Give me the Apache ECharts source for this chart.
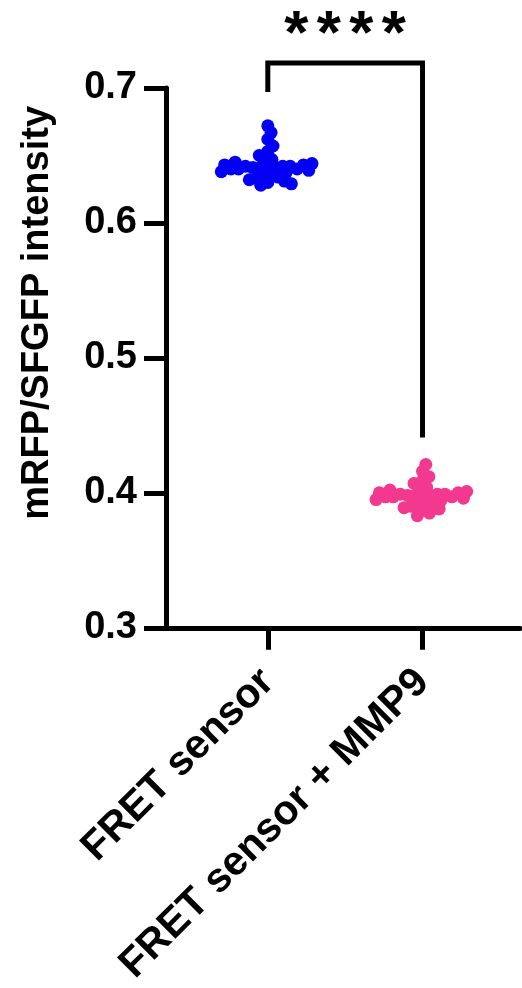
<!DOCTYPE html>
<html>
<head>
<meta charset="utf-8">
<script src="https://cdn.jsdelivr.net/npm/echarts@6/dist/echarts.min.js"></script>
<style>
  html, body { margin: 0; padding: 0; background: #fff; }
  #main { width: 522px; height: 988px; }
</style>
</head>
<body>
<div id="main"></div>
<script>
const groups = ["FRET sensor", "FRET sensor + MMP9"];
const yTicks = [0.3, 0.4, 0.5, 0.6, 0.7];

// mRFP/SFGFP ratio per cell
const fretSensor = [
  0.672, 0.667, 0.662, 0.657, 0.653, 0.650,
  0.647, 0.646, 0.645,
  0.644, 0.643, 0.643, 0.642, 0.642, 0.642, 0.641, 0.641, 0.641, 0.641,
  0.640, 0.640, 0.640,
  0.639, 0.638, 0.637, 0.636, 0.635, 0.634, 0.633, 0.632, 0.631, 0.630,
  0.629, 0.628
];
const fretSensorMmp9 = [
  0.421, 0.416, 0.412, 0.409, 0.407,
  0.404, 0.403, 0.402,
  0.401, 0.400, 0.400, 0.399, 0.399, 0.399, 0.398, 0.398, 0.398, 0.398,
  0.397, 0.397, 0.397,
  0.396, 0.395, 0.394, 0.393, 0.392, 0.391, 0.390, 0.389, 0.388, 0.387,
  0.385, 0.383
];

// significance bracket: [x, y] corners and label
const bracket = [[1, 0.697], [1, 0.7186], [2, 0.7186], [2, 0.441]];
const sigStars = 4;

const FONT = "'Liberation Sans', Arial, sans-serif";
const colors = ["#0400F4", "#F2388F"];

let myChart = echarts.init(document.getElementById("main"));

let option = {
  animation: false,
  backgroundColor: "#fff",
  grid: { left: 166, right: 2, top: 88, bottom: 359 },
  xAxis: {
    type: "value",
    min: 0.342,
    max: 2.63,
    splitLine: { show: false },
    axisLine: { lineStyle: { color: "#000", width: 5 } },
    axisTick: {
      customValues: [1, 2],
      length: 22,
      lineStyle: { color: "#000", width: 5 },
    },
    axisLabel: {
      customValues: [1, 2],
      formatter: (v) => groups[Math.round(v) - 1] || "",
      rotate: 45,
      margin: 48,
      color: "#000",
      fontSize: 41,
      fontWeight: "bold",
      fontFamily: FONT,
    },
  },
  yAxis: {
    type: "value",
    min: yTicks[0],
    max: yTicks[yTicks.length - 1],
    interval: 0.1,
    name: "mRFP/SFGFP intensity",
    nameLocation: "middle",
    nameGap: 109,
    nameTextStyle: {
      color: "#000",
      fontSize: 38,
      fontWeight: "bold",
      fontFamily: FONT,
      padding: [0, 0, 0, 90],
    },
    splitLine: { show: false },
    axisLine: { show: true, lineStyle: { color: "#000", width: 5 } },
    axisTick: { show: true, length: 22, lineStyle: { color: "#000", width: 5 } },
    axisLabel: {
      margin: 29,
      color: "#000",
      fontSize: 38,
      fontWeight: "bold",
      fontFamily: FONT,
      formatter: (v) => v.toFixed(1),
    },
  },
  series: [],
};
myChart.setOption(option);

// beeswarm layout in pixel space, then back to data coords
function swarm(vals, cx, d) {
  const sorted = vals.slice().sort((a, b) => a - b);
  const med = sorted[Math.floor(sorted.length / 2)];
  const order = vals.slice().sort((a, b) => Math.abs(a - med) - Math.abs(b - med));
  const placed = [];
  const c = myChart.convertToPixel({ gridIndex: 0 }, [cx, med]);
  order.forEach((v, i) => {
    const py = myChart.convertToPixel({ gridIndex: 0 }, [cx, v])[1];
    const iv = [];
    placed.forEach((p) => {
      const dy = p[1] - py;
      if (Math.abs(dy) < d) {
        const w = Math.sqrt(d * d - dy * dy);
        iv.push([p[0] - w, p[0] + w]);
      }
    });
    let cands = [0];
    iv.forEach((a) => cands.push(a[0], a[1]));
    cands = cands.filter((x) => iv.every((a) => x <= a[0] + 1e-6 || x >= a[1] - 1e-6));
    cands.sort((a, b) => Math.abs(a) - Math.abs(b) || (i % 2 ? a - b : b - a));
    placed.push([cands[0], py]);
  });
  return placed.map((p) => myChart.convertFromPixel({ gridIndex: 0 }, [c[0] + p[0], p[1]]));
}

myChart.setOption({
  series: [
    {
      name: groups[0],
      type: "scatter",
      symbolSize: 13,
      itemStyle: { color: colors[0], opacity: 1 },
      data: swarm(fretSensor, 1, 7.5),
    },
    {
      name: groups[1],
      type: "scatter",
      symbolSize: 13,
      itemStyle: { color: colors[1], opacity: 1 },
      data: swarm(fretSensorMmp9, 2, 7.5),
    },
    {
      type: "line",
      clip: false,
      symbol: "none",
      lineStyle: { color: "#000", width: 5, cap: "butt", join: "miter" },
      data: bracket,
    },
    {
      type: "scatter",
      clip: false,
      symbolSize: 0,
      data: [[1.5, 0.7186]],
      label: {
        show: true,
        position: "top",
        distance: 2,
        color: "#000",
        opacity: 1,
        formatter: "{s|*}".repeat(sigStars),
        rich: {
          s: {
            width: 32.5,
            align: "center",
            color: "#000",
            fontSize: 62,
            fontWeight: "bold",
            fontFamily: FONT,
            lineHeight: 50,
          },
        },
      },
      emphasis: { disabled: true },
    },
  ],
});
</script>
</body>
</html>
